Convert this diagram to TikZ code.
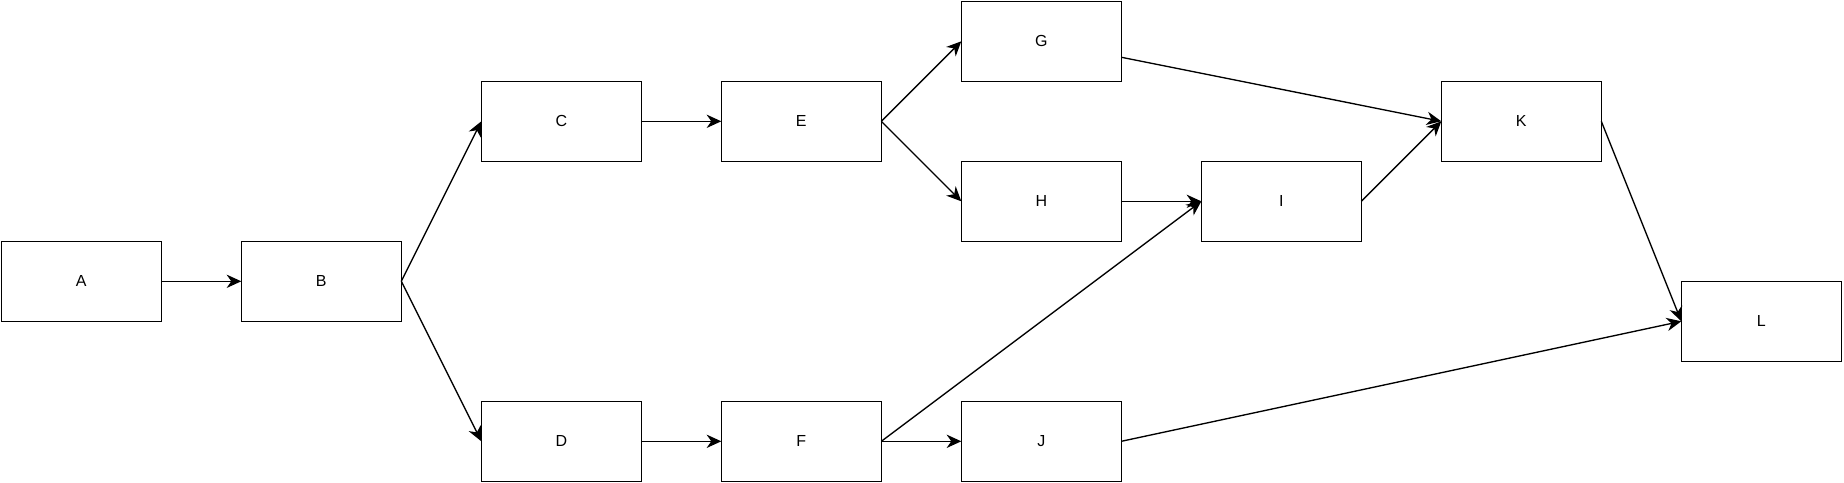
\documentclass[tikz,border=0pt]{standalone}
\usepackage{fontspec}
\setmainfont{Liberation Sans}
\usetikzlibrary{arrows.meta}

\tikzset{every picture/.style={line width=1pt}}
\tikzset{task/.style={draw, rectangle, minimum width=120pt, minimum height=60pt, inner sep=0pt, outer sep=0pt, font=\fontsize{12pt}{14pt}\selectfont}}
\tikzset{link/.style={-{Stealth[length=11pt,width=10pt,inset=3.5pt]}}}

\begin{document}
\begin{tikzpicture}[x=0.75pt,y=0.75pt,yscale=-1,xscale=1]
        %set diagram left start at 0, and has height of 482
        \path (0,0) rectangle (1844,482);

        % Tasks
        \node [task] (A) at (81.3,281.3) {A};
        \node [task] (B) at (321.3,281.3) {B};
        \node [task] (C) at (561.3,121.3) {C};
        \node [task] (D) at (561.3,441.3) {D};
        \node [task] (E) at (801.3,121.3) {E};
        \node [task] (F) at (801.3,441.3) {F};
        \node [task] (G) at (1041.3,41.3) {G};
        \node [task] (H) at (1041.3,201.3) {H};
        \node [task] (J) at (1041.3,441.3) {J};
        \node [task] (I) at (1281.3,201.3) {I};
        \node [task] (K) at (1521.3,121.3) {K};
        \node [task] (L) at (1761.3,321.3) {L};

        % Links
        \draw [link] (A.east) -- (B.west);
        \draw [link] (B.east) -- (C.west);
        \draw [link] (B.east) -- (D.west);
        \draw [link] (C.east) -- (E.west);
        \draw [link] (D.east) -- (F.west);
        \draw [link] (E.east) -- (G.west);
        \draw [link] (E.east) -- (H.west);
        \draw [link] (F.east) -- (I.west);
        \draw [link] (F.east) -- (J.west);
        \draw [link] (G) -- (K.west);
        \draw [link] (H.east) -- (I.west);
        \draw [link] (I.east) -- (K.west);
        \draw [link] (K.east) -- (L.west);
        \draw [link] (J.east) -- (L.west);
\end{tikzpicture}
\end{document}
